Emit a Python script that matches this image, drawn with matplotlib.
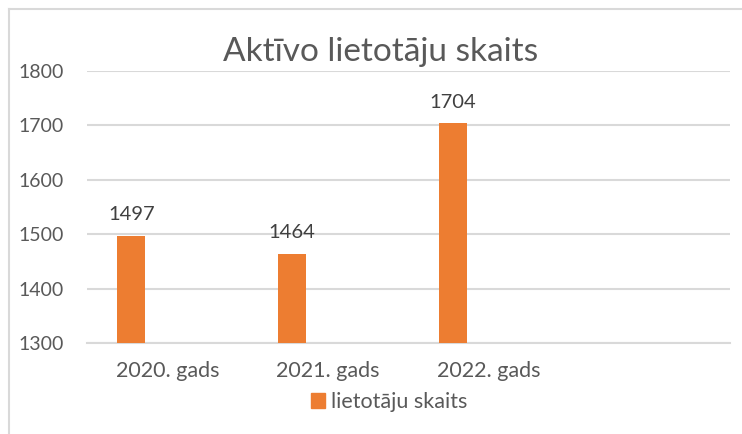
import matplotlib
matplotlib.use("Agg")
import matplotlib.pyplot as plt
from matplotlib.patches import Patch
from matplotlib.lines import Line2D

# chart data
categories = ["2020. gads", "2021. gads", "2022. gads", ""]
users = [1497, 1464, 1704, None]
series_name = "lietotāju skaits"
title = "Aktīvo lietotāju skaits"

orange = "#ED7D31"
grey = "#595959"
grid = "#D9D9D9"

plt.rcParams["font.family"] = ["Lato", "DejaVu Sans"]

fig = plt.figure(figsize=(7.42, 4.34), dpi=100)
ax = fig.add_axes([87 / 742, 1 - 343 / 434, 643 / 742, 272 / 434])

xs = [i for i, v in enumerate(users) if v is not None]
vals = [v for v in users if v is not None]
bars = ax.bar([x - 0.224 for x in xs], vals, width=0.174, color=orange, zorder=3)
for b, v in zip(bars, vals):
    ax.annotate(str(v), (b.get_x() + b.get_width() / 2, v), xytext=(0, 9),
                textcoords="offset points", ha="center", va="bottom",
                fontsize=14.5, color="#404040")

ax.set_xlim(-0.5, len(categories) - 0.5)
ax.set_ylim(1300, 1800)
ax.set_yticks(range(1300, 1801, 100))
ax.set_xticks(range(len(categories)))
ax.set_xticklabels(categories)
ax.tick_params(axis="both", length=0, labelcolor=grey)
ax.tick_params(axis="y", pad=17, labelsize=14)
ax.tick_params(axis="x", pad=13, labelsize=15.5)
ax.grid(axis="y", color=grid, linewidth=1.5, zorder=0)
for s in ["top", "right", "left"]:
    ax.spines[s].set_visible(False)
ax.spines["bottom"].set_color(grid)
ax.spines["bottom"].set_linewidth(1.5)

fig.text(381 / 742, 1 - 52 / 434, title, ha="center", va="center",
         fontsize=24, color=grey)

fig.legend(handles=[Patch(color=orange, label=series_name)],
           loc="center", bbox_to_anchor=(389 / 742, 1 - 402 / 434),
           frameon=False, fontsize=15.5, labelcolor=grey,
           handlelength=0.65, handleheight=0.65, handletextpad=0.3)

# chart border
fig.add_artist(Line2D([9 / 742, 9 / 742], [0, 1 - 9 / 434], color=grid,
                      linewidth=1.5, transform=fig.transFigure))
fig.add_artist(Line2D([9 / 742, 1], [1 - 9 / 434, 1 - 9 / 434], color=grid,
                      linewidth=1.5, transform=fig.transFigure))

fig.savefig("out.png", dpi=100)
